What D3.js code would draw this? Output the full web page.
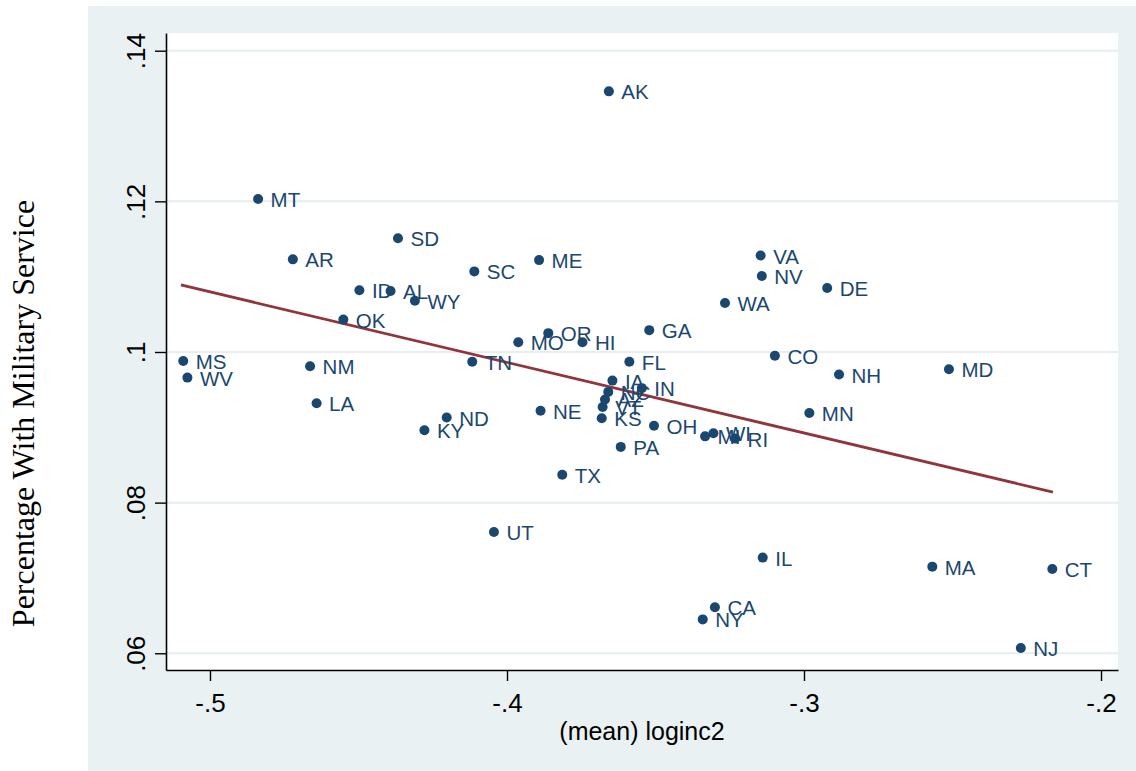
<!DOCTYPE html>
<html>
<head>
<meta charset="utf-8">
<script src="https://cdn.jsdelivr.net/npm/d3@7"></script>
<style>
  html, body { margin: 0; padding: 0; background: #ffffff; }
  svg { display: block; }
</style>
</head>
<body>
<svg id="chart" width="1136" height="771"></svg>
<script>
// ---- Data ----
const states = ["AK","MT","SD","AR","ME","SC","ID","AL","WY","OK",
  "OR","MO","HI","GA","TN","FL","CO","IA","IN","NC","AZ","VT","KS",
  "NE","ND","KY","OH","PA","MI","WI","RI","NH","MN","VA","NV","DE",
  "WA","MA","CT","NJ","MS","WV","NM","LA","TX","UT","IL","CA","NY","MD"];
const loginc2 = [-0.3657,-0.4838,-0.4367,-0.4721,-0.3892,-0.4110,-0.4497,-0.4392,-0.4310,-0.4551,
  -0.3861,-0.3962,-0.3746,-0.3521,-0.4117,-0.3588,-0.3098,-0.3645,-0.3546,-0.3659,-0.3670,-0.3678,-0.3681,
  -0.3887,-0.4203,-0.4278,-0.3505,-0.3617,-0.3333,-0.3305,-0.3232,-0.2882,-0.2982,-0.3146,-0.3142,-0.2922,
  -0.3266,-0.2568,-0.2164,-0.2270,-0.5090,-0.5076,-0.4663,-0.4641,-0.3814,-0.4044,-0.3139,-0.3300,-0.3341,-0.2512];
const military = [0.1346,0.1203,0.1151,0.1123,0.1122,0.1107,0.1082,0.1081,0.1068,0.1043,
  0.1025,0.1013,0.1013,0.1029,0.0987,0.0987,0.0995,0.0962,0.0952,0.0947,0.0937,0.0927,0.0912,
  0.0922,0.0913,0.0896,0.0902,0.0874,0.0888,0.0892,0.0885,0.0970,0.0919,0.1128,0.1101,0.1085,
  0.1065,0.0715,0.0712,0.0607,0.0988,0.0966,0.0981,0.0932,0.0837,0.0761,0.0727,0.0661,0.0645,0.0977];
// fitted line (linear fit) endpoints
const fitX = [-0.5098, -0.2162];
const fitY = [0.1089, 0.0814];
// ticks
const xTickValues = [-0.5, -0.4, -0.3, -0.2];
const xTickLabels = ["-.5", "-.4", "-.3", "-.2"];
const yTickValues = [0.06, 0.08, 0.10, 0.12, 0.14];
const yTickLabels = [".06", ".08", ".1", ".12", ".14"];
const xTitle = "(mean) loginc2";
const yTitle = "Percentage With Military Service";

// ---- Layout ----
const W = 1136, H = 771;
const panel = { x: 88, y: 6 };
const plot = { left: 166, right: 1118, top: 33, bottom: 670 };
const bg = "#eaf1f3";
const navy = "#1a476f";
const maroon = "#90353b";
const sans = "'Liberation Sans', Arial, sans-serif";
const serif = "'Liberation Serif', 'Times New Roman', serif";

const svg = d3.select("#chart");

svg.append("rect").attr("x", panel.x).attr("y", panel.y)
  .attr("width", W - panel.x).attr("height", H - panel.y).attr("fill", bg);
svg.append("rect").attr("x", plot.left).attr("y", plot.top)
  .attr("width", plot.right - plot.left).attr("height", plot.bottom - plot.top)
  .attr("fill", "#ffffff");

const x = d3.scaleLinear().domain([-0.51481, -0.19428]).range([plot.left, plot.right]);
const y = d3.scaleLinear().domain([0.05778, 0.14235]).range([plot.bottom, plot.top]);

// grid lines
svg.append("g").selectAll("line").data(yTickValues).join("line")
  .attr("x1", plot.left).attr("x2", plot.right)
  .attr("y1", d => y(d)).attr("y2", d => y(d))
  .attr("stroke", "#e6eef1").attr("stroke-width", 2);

// axes
const yAxis = svg.append("g").attr("transform", `translate(${plot.left},0)`)
  .call(d3.axisLeft(y).tickValues(yTickValues)
    .tickFormat((d, i) => yTickLabels[i]).tickSize(11).tickSizeOuter(0));
yAxis.select(".domain").attr("stroke", "#000").attr("stroke-width", 1.6);
yAxis.selectAll(".tick line").attr("stroke", "#000").attr("stroke-width", 1.4);
yAxis.selectAll(".tick text")
  .attr("transform", "rotate(-90)")
  .attr("x", 0).attr("y", -21).attr("dy", 0)
  .attr("text-anchor", "middle")
  .attr("font-family", sans).attr("font-size", 26).attr("fill", "#000");

const xAxis = svg.append("g").attr("transform", `translate(0,${plot.bottom})`)
  .call(d3.axisBottom(x).tickValues(xTickValues)
    .tickFormat((d, i) => xTickLabels[i]).tickSize(11).tickSizeOuter(0));
xAxis.select(".domain").attr("stroke", "#000").attr("stroke-width", 1.6);
xAxis.selectAll(".tick line").attr("stroke", "#000").attr("stroke-width", 1.4);
xAxis.selectAll(".tick text")
  .attr("y", 42).attr("dy", 0)
  .attr("text-anchor", "middle")
  .attr("font-family", sans).attr("font-size", 26).attr("fill", "#000");

// axis titles
svg.append("text")
  .attr("x", (plot.left + plot.right) / 2).attr("y", 740)
  .attr("text-anchor", "middle")
  .attr("font-family", sans).attr("font-size", 25).attr("fill", "#000")
  .text(xTitle);

svg.append("text")
  .attr("transform", `translate(33.5,${(plot.top + plot.bottom) / 2 + 62}) rotate(-90)`)
  .attr("text-anchor", "middle")
  .attr("font-family", serif).attr("font-size", 32).attr("fill", "#000")
  .text(yTitle);

// fitted line
svg.append("line")
  .attr("x1", x(fitX[0])).attr("y1", y(fitY[0]))
  .attr("x2", x(fitX[1])).attr("y2", y(fitY[1]))
  .attr("stroke", maroon).attr("stroke-width", 2.8);

// points and labels
const pts = states.map((s, i) => ({ s, xv: loginc2[i], yv: military[i] }));
const g = svg.append("g");
g.selectAll("circle").data(pts).join("circle")
  .attr("cx", d => x(d.xv)).attr("cy", d => y(d.yv))
  .attr("r", 5).attr("fill", navy);
g.selectAll("text").data(pts).join("text")
  .attr("x", d => x(d.xv) + 12.5).attr("y", d => y(d.yv) + 8)
  .attr("font-family", sans).attr("font-size", 20.5).attr("fill", navy)
  .text(d => d.s);
</script>
</body>
</html>
